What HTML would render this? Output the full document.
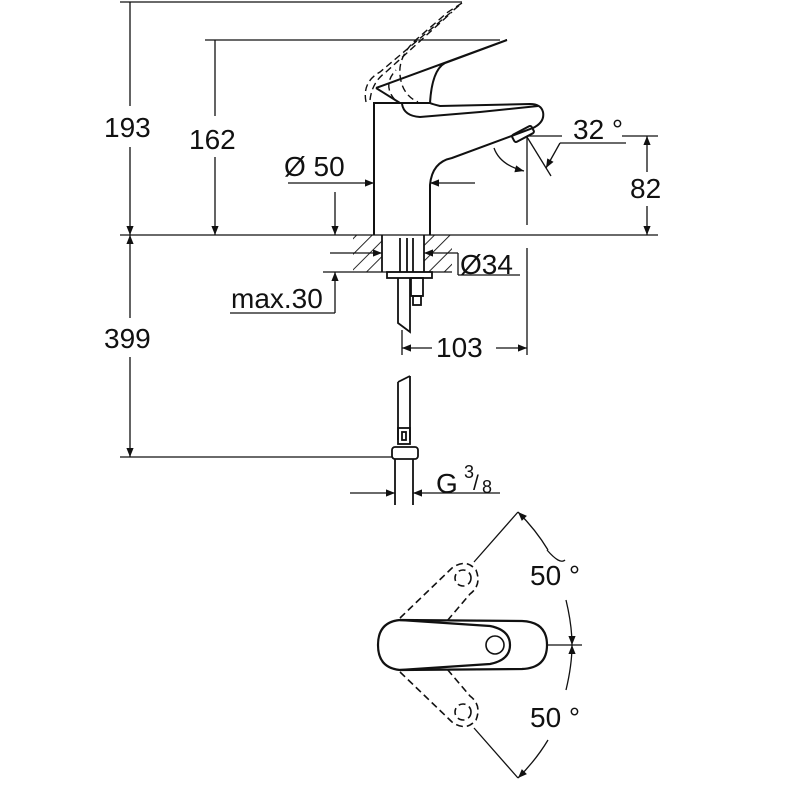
<!DOCTYPE html>
<html><head><meta charset="utf-8"><style>
html,body{margin:0;padding:0;background:#fff;}
svg{display:block;}
text{font-family:"Liberation Sans",sans-serif;font-size:28px;fill:#111;}
</style></head><body>
<svg width="787" height="800" viewBox="0 0 787 800" xmlns="http://www.w3.org/2000/svg">
<defs>
<marker id="a" viewBox="0 0 10 10" refX="10" refY="5" markerWidth="18" markerHeight="9" markerUnits="userSpaceOnUse" orient="auto-start-reverse"><path d="M0,1 L10,5 L0,9 z" fill="#111"/></marker>
<pattern id="h" width="11" height="11" patternUnits="userSpaceOnUse" patternTransform="rotate(45)"><line x1="0" y1="0" x2="0" y2="11" stroke="#111" stroke-width="1.8"/></pattern>
</defs>
<g stroke="#111" stroke-width="1.3" fill="none">
<line x1="120" y1="2" x2="462" y2="2"/>
<line x1="205" y1="40" x2="500" y2="40"/>
<line x1="120" y1="235" x2="658" y2="235"/>
<line x1="120" y1="457" x2="392" y2="457"/>
<line x1="130" y1="2" x2="130" y2="106"/>
<line x1="130" y1="147" x2="130" y2="235" marker-end="url(#a)"/>
<line x1="130" y1="318" x2="130" y2="235" marker-end="url(#a)"/>
<line x1="130" y1="357" x2="130" y2="457" marker-end="url(#a)"/>
<line x1="215" y1="40" x2="215" y2="116"/>
<line x1="215" y1="157" x2="215" y2="235" marker-end="url(#a)"/>
<line x1="288" y1="183" x2="374" y2="183" marker-end="url(#a)"/>
<line x1="475" y1="183" x2="430" y2="183" marker-end="url(#a)"/>
<line x1="335" y1="192" x2="335" y2="235" marker-end="url(#a)"/>
<line x1="323" y1="272" x2="353" y2="272"/>
<line x1="230" y1="313" x2="335" y2="313"/>
<line x1="335" y1="313" x2="335" y2="272" marker-end="url(#a)"/>
<line x1="330" y1="253" x2="382" y2="253" marker-end="url(#a)"/>
<line x1="458" y1="253" x2="424" y2="253" marker-end="url(#a)"/>
<line x1="458" y1="253" x2="458" y2="275"/>
<line x1="458" y1="275" x2="520" y2="275"/>
<line x1="527" y1="137" x2="527" y2="225"/>
<line x1="527" y1="248" x2="527" y2="355"/>
<line x1="402" y1="330" x2="402" y2="355"/>
<line x1="432" y1="348" x2="402" y2="348" marker-end="url(#a)"/>
<line x1="496" y1="348" x2="527" y2="348" marker-end="url(#a)"/>
<line x1="527" y1="136" x2="562" y2="136"/>
<line x1="622" y1="136" x2="658" y2="136"/>
<line x1="647" y1="172" x2="647" y2="136" marker-end="url(#a)"/>
<line x1="647" y1="206" x2="647" y2="235" marker-end="url(#a)"/>
<line x1="527" y1="137" x2="551" y2="176"/>
<line x1="626" y1="143" x2="560" y2="143"/>
<line x1="560" y1="143" x2="546" y2="168" marker-end="url(#a)"/>
<path d="M494,148 Q500,165 524,171" marker-end="url(#a)"/>
<g stroke-width="2">
<path d="M374,235 L374,103 L430,103"/>
<path d="M430,235 L430,185 Q432,162 452,158 L533,128 Q545,122 543,112 Q541,104 530,104 L440,106 Q432,104 430,103"/>
<path d="M402,104 Q404,116 420,117 L480,112 L538,106"/>
<path d="M376,88 L507,40 L445,63 Q432,70 430,103"/>
<path d="M376,88 L400,103"/>
<rect x="512" y="130" width="22" height="8" rx="2" transform="rotate(-28 523 134)"/>
</g>
<g stroke-dasharray="7,4" stroke-width="1.4">
<path d="M366,102 Q362,82 380,72 L462,3 L448,12 L418,38 Q398,55 400,75 Q402,95 418,102"/>
<path d="M370,100 Q372,82 386,72 L452,12"/>
<path d="M395,100 Q382,85 396,70"/>
</g>
<rect x="353" y="235" width="29" height="37" fill="url(#h)" stroke="none"/>
<rect x="424" y="235" width="28" height="37" fill="url(#h)" stroke="none"/>
<line x1="353" y1="272" x2="452" y2="272"/>
<g stroke-width="1.8">
<line x1="382" y1="235" x2="382" y2="272"/>
<line x1="424" y1="235" x2="424" y2="272"/>
<line x1="400" y1="238" x2="400" y2="272"/>
<line x1="407" y1="238" x2="407" y2="272"/>
<line x1="413" y1="238" x2="413" y2="272"/>
<rect x="387" y="272" width="45" height="6"/>
<path d="M398,278 L398,323 L410,332 L410,278"/>
<rect x="411" y="278" width="12" height="18"/>
<rect x="413" y="296" width="8" height="9"/>
<path d="M398,382 L398,440 M410,376 L410,440 M398,382 L410,376"/>
<rect x="398" y="428" width="12" height="16"/>
<rect x="402" y="432" width="4" height="8"/>
<rect x="392" y="447" width="26" height="12" rx="3"/>
<line x1="395" y1="459" x2="395" y2="505"/>
<line x1="413" y1="459" x2="413" y2="505"/>
</g>
<line x1="350" y1="493" x2="395" y2="493" marker-end="url(#a)"/>
<line x1="500" y1="493" x2="413" y2="493" marker-end="url(#a)"/>
<g stroke-width="2.2">
<path d="M400,620 L522,621 Q547,622 547,645 Q547,668 522,669 L400,670 Q378,668 378,645 Q378,622 400,620 Z"/>
<path d="M400,620 L490,626 Q510,630 510,645 Q510,660 490,664 L400,670"/>
</g>
<circle cx="495" cy="645" r="9" stroke-width="1.6"/>
<g stroke-dasharray="7,4" stroke-width="1.6">
<path d="M400,618 L452,568 Q466,558 476,570 Q482,585 470,594 L447,621"/>
<circle cx="463" cy="578" r="8"/>
<path d="M400,672 L452,722 Q466,732 476,720 Q482,705 470,696 L447,669"/>
<circle cx="463" cy="712" r="8"/>
</g>
<line x1="474" y1="562" x2="518" y2="512"/>
<line x1="474" y1="728" x2="518" y2="778"/>
<line x1="547" y1="645" x2="582" y2="645"/>
<path d="M548,550 Q536,530 518,512" marker-end="url(#a)"/>
<path d="M547,550 Q560,565 565,560"/>
<path d="M566,600 Q572,625 572,645" marker-end="url(#a)"/>
<path d="M548,740 Q536,760 518,778" marker-end="url(#a)"/>
<path d="M566,690 Q572,665 572,645" marker-end="url(#a)"/>
</g>
<text x="104" y="137">193</text>
<text x="189" y="149">162</text>
<text x="284" y="176">Ø 50</text>
<text x="460" y="274">Ø34</text>
<text x="231" y="308">max.30</text>
<text x="104" y="348">399</text>
<text x="436" y="357">103</text>
<text x="573" y="139">32 °</text>
<text x="630" y="198">82</text>
<text x="436" y="493">G</text>
<text x="464" y="478" style="font-size:18px">3</text>
<text x="473" y="490" style="font-size:21px">/</text>
<text x="482" y="493" style="font-size:18px">8</text>
<text x="530" y="585">50 °</text>
<text x="530" y="727">50 °</text>
</svg>
</body></html>
